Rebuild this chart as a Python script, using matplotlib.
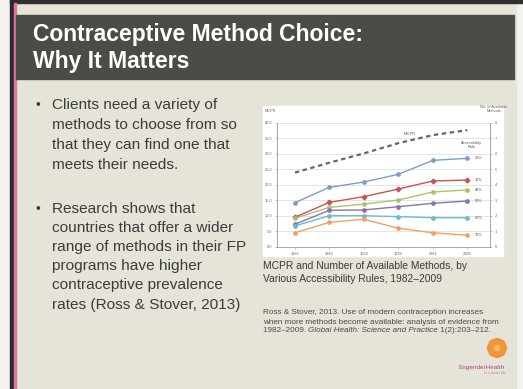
import matplotlib
matplotlib.use("Agg")
import matplotlib.pyplot as plt
from matplotlib.patches import Rectangle, Circle
import numpy as np

plt.rcParams['font.family'] = ['Liberation Sans', 'DejaVu Sans']

# ---- data ----
years = ["1982", "1989", "1994", "1999", "2004", "2009"]
mcpr = [23.9, 27.1, 30.1, 33.4, 36.0, 37.6]
rule_labels = ["20%", "30%", "40%", "50%", "60%", "70%"]
methods_20 = [2.84, 3.83, 4.17, 4.67, 5.57, 5.70]
methods_30 = [1.90, 2.86, 3.23, 3.72, 4.24, 4.30]
methods_40 = [1.83, 2.54, 2.75, 3.01, 3.53, 3.66]
methods_50 = [1.45, 2.35, 2.37, 2.58, 2.80, 2.95]
methods_60 = [1.34, 2.00, 2.00, 1.94, 1.87, 1.87]
methods_70 = [0.90, 1.57, 1.77, 1.19, 0.90, 0.74]
left_ticks = [0, 5, 10, 15, 20, 25, 30, 35, 40]
right_ticks = [0, 1, 2, 3, 4, 5, 6, 7, 8]

series = [methods_20, methods_30, methods_40, methods_50, methods_60, methods_70]
colors = ["#7f9cc9", "#c5555a", "#a9c46c", "#8a72ad", "#6cbad0", "#f2a05e"]
markers = ["o", "D", "o", "o", "o", "o"]

W, H = 523, 389
fig = plt.figure(figsize=(W / 100, H / 100), dpi=100)

# ---- slide background ----
bg = fig.add_axes([0, 0, 1, 1])
bg.set_xlim(0, W)
bg.set_ylim(H, 0)
bg.axis("off")
bg.add_patch(Rectangle((0, 0), W, H, color="#f3f2ee", zorder=0))
bg.add_patch(Rectangle((10, 0), 506, H, color="#e6e3d9", zorder=1))
bg.add_patch(Rectangle((10, 0), W - 10, 3, color="#2f2f2f", zorder=2))
bg.add_patch(Rectangle((10, 0), 4, H, color="#2e2a2c", zorder=2))
bg.add_patch(Rectangle((14, 3), 2, H, color="#d9789f", zorder=2))
bg.add_patch(Rectangle((16, 15), 498, 64, color="#4c4c47", zorder=2))

bg.text(33, 34, "Contraceptive Method Choice:", color="white", fontsize=16.5,
        fontweight="bold", va="center", ha="left", zorder=3)
bg.text(33, 61, "Why It Matters", color="white", fontsize=16.5,
        fontweight="bold", va="center", ha="left", zorder=3)

txtc = "#3c3c3c"
b1 = ["Clients need a variety of", "methods to choose from so",
      "that they can find one that", "meets their needs."]
b2 = ["Research shows that", "countries that offer a wider",
      "range of methods in their FP", "programs have higher",
      "contraceptive prevalence", "rates (Ross & Stover, 2013)"]
bg.text(35, 105, "•", color=txtc, fontsize=10, va="center", zorder=3)
for i, s in enumerate(b1):
    bg.text(52, 105 + 20 * i, s, color=txtc, fontsize=11.1, va="center", zorder=3)
bg.text(35, 209, "•", color=txtc, fontsize=10, va="center", zorder=3)
for i, s in enumerate(b2):
    bg.text(52, 209 + 19.1 * i, s, color=txtc, fontsize=11.1, va="center", zorder=3)

# chart white panel
bg.add_patch(Rectangle((263, 106), 240, 150, color="white", zorder=3))

bg.text(263, 266, "MCPR and Number of Available Methods, by", color="#3a3a3a",
        fontsize=7.4, va="center", zorder=4)
bg.text(263, 279.5, "Various Accessibility Rules, 1982–2009", color="#3a3a3a",
        fontsize=7.4, va="center", zorder=4)

refc = "#4a4a4a"
rfs = 5.9
bg.text(263, 313, "Ross & Stover, 2013. Use of modern contraception increases",
        color=refc, fontsize=rfs, va="center", zorder=4)
bg.text(263, 322, "when more methods become available: analysis of evidence from",
        color=refc, fontsize=rfs, va="center", zorder=4)
parts = [("1982–2009. ", "normal"), ("Global Health: Science and Practice", "italic"),
         (" 1(2):203–212.", "normal")]
fig.canvas.draw()
r = fig.canvas.get_renderer()
xpos = 263
for s, st in parts:
    tt = bg.text(xpos, 331, s, color=refc, fontsize=rfs, style=st, va="center", zorder=4)
    bb = tt.get_window_extent(renderer=r)
    xpos += bb.width * W / fig.bbox.width

# logo
for a in np.linspace(0, 2 * np.pi, 8, endpoint=False):
    bg.add_patch(Circle((497 + 5 * np.cos(a), 348 + 5 * np.sin(a)), 4.5,
                        color="#f0953a", zorder=4))
bg.add_patch(Circle((497, 348), 5.5, color="#f19a3c", zorder=5))
bg.add_patch(Circle((497, 348), 2.5, color="#f7b766", zorder=6))
bg.text(482, 367, "EngenderHealth", color="#a8457e", fontsize=4.6,
        ha="center", va="center", zorder=4)
bg.text(494, 373, "for a better life", color="#999999", fontsize=2.5,
        ha="center", va="center", zorder=4)

# ---- chart ----
x = list(range(len(years)))
ax = fig.add_axes([277 / W, 1 - 246.7 / H, (490 - 277) / W, (246.7 - 122.7) / H])
ax.set_facecolor("white")
ax.set_xlim(-0.52, 5.66)
ax.set_ylim(0, 40)
ax.set_yticks(left_ticks)
ax.set_yticklabels([f"{v:.1f}" for v in left_ticks], fontsize=2.8, color="#666")
ax.set_xticks(x)
ax.set_xticklabels(years, fontsize=2.8, color="#666")
ax.tick_params(length=1.5, width=0.4, colors="#999", labelcolor="#666", pad=2)
ax.grid(axis="y", color="#dadada", lw=0.5)
for sp in ["top", "right"]:
    ax.spines[sp].set_visible(False)
ax.spines["left"].set_color("#999")
ax.spines["bottom"].set_color("#999")
ax.spines["left"].set_linewidth(0.6)
ax.spines["bottom"].set_linewidth(0.6)
ax.set_axisbelow(True)
ax.plot(x, mcpr, color="#666666", lw=1.6, ls=(0, (2, 1.6)), zorder=3)
ax.text(3.34, 36.5, "MCPR", fontsize=3, color="#555", ha="center", va="center")

ax2 = ax.twinx()
ax2.set_ylim(0, 8)
ax2.set_yticks(right_ticks)
ax2.set_yticklabels([str(v) for v in right_ticks], fontsize=2.8, color="#666")
ax2.tick_params(length=1.5, width=0.4, colors="#999", labelcolor="#666", pad=2)
for sp in ["top", "left", "bottom"]:
    ax2.spines[sp].set_visible(False)
ax2.spines["right"].set_color("#999")
ax2.spines["right"].set_linewidth(0.6)
for vals, c, m, lab in zip(series, colors, markers, rule_labels):
    ax2.plot(x, vals, color=c, lw=1.0, marker=m, ms=2.4, mec=c, mfc=c)
    ax2.text(5.22, vals[-1], lab, fontsize=2.8, color="#555", va="center", ha="left")
ax2.text(5.13, 6.56, "Accessibility\nRule", fontsize=2.8, color="#555",
         ha="center", va="center", linespacing=1.0)

bg.text(265, 111, "MCPR", fontsize=2.8, color="#666", va="center", zorder=4)
bg.text(494, 109, "No. of Available\nMethods", fontsize=2.8, color="#666",
        ha="center", va="center", linespacing=1.0, zorder=4)

fig.savefig("out.png", dpi=100)
